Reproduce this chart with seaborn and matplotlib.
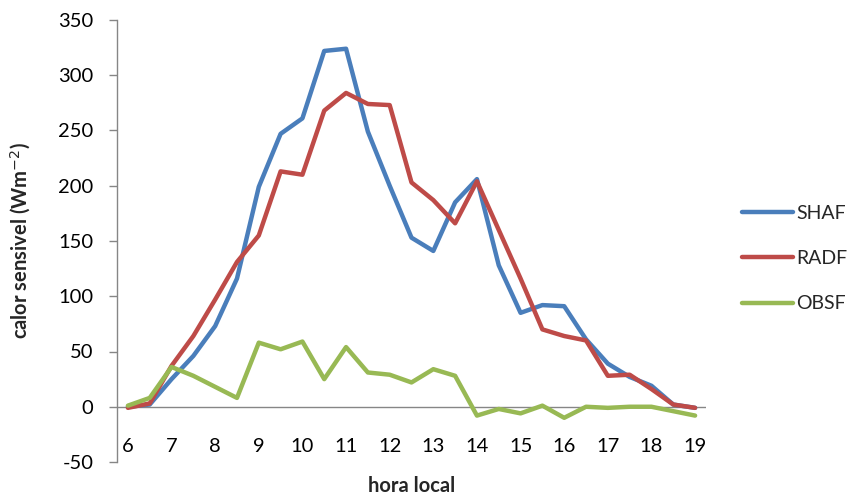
import numpy as np
import pandas as pd
import matplotlib
matplotlib.use("Agg")
import matplotlib.pyplot as plt
import seaborn as sns

# Half-hourly local time
hours = [6.0, 6.5, 7.0, 7.5, 8.0, 8.5, 9.0, 9.5, 10.0, 10.5, 11.0, 11.5, 12.0, 12.5,
         13.0, 13.5, 14.0, 14.5, 15.0, 15.5, 16.0, 16.5, 17.0, 17.5, 18.0, 18.5, 19.0]

# Sensible heat flux (W m-2)
shaf = [0, 2, 25, 46, 73, 116, 199, 247, 261, 322, 324, 249, 200, 153,
        141, 185, 206, 128, 85, 92, 91, 61, 39, 27, 19, 2, -1]
radf = [-1, 3, 37, 64, 97, 131, 155, 213, 210, 268, 284, 274, 273, 203,
        187, 166, 204, 160, 116, 70, 64, 60, 28, 29, 16, 2, -1]
obsf = [1, 8, 36, 28, 18, 8, 58, 52, 59, 25, 54, 31, 29, 22,
        34, 28, -8, -2, -6, 1, -10, 0, -1, 0, 0, -4, -8]

series_names = ["SHAF", "RADF", "OBSF"]
series_colors = ["#4A7EBB", "#BE4B48", "#98B954"]

df = pd.concat([
    pd.DataFrame({"hora": hours, "valor": vals, "serie": name})
    for name, vals in zip(series_names, [shaf, radf, obsf])
], ignore_index=True)

sns.set_theme(style="white")
plt.rcParams["font.family"] = ["Lato", "DejaVu Sans"]
plt.rcParams["axes.unicode_minus"] = False

FS = 14.5

fig = plt.figure(figsize=(8.52, 4.97), dpi=100)
ax = fig.add_axes([117 / 852, 1 - 462 / 497, (706 - 117) / 852, (462 - 20) / 497])

sns.lineplot(data=df, x="hora", y="valor", hue="serie", hue_order=series_names,
             palette=dict(zip(series_names, series_colors)), linewidth=3.2,
             ax=ax, legend=False)

ax.set_xlim(5.75, 19.25)
ax.set_ylim(-50, 350)
ax.set_yticks(np.arange(-50, 351, 50))
ax.set_xticks(np.arange(6, 20, 1))

for s in ["top", "right", "bottom"]:
    ax.spines[s].set_visible(False)
ax.spines["left"].set_color("#868686")
ax.spines["left"].set_linewidth(1.0)
ax.axhline(0, color="#868686", linewidth=1.0, zorder=0)

ax.tick_params(axis="y", left=True, length=6, width=1, color="#868686",
               direction="out", pad=11, labelsize=FS, labelcolor="black")
ax.tick_params(axis="x", bottom=False, length=0, pad=-17, labelsize=FS,
               labelcolor="black")

ax.set_xlabel("hora local", fontsize=FS, fontweight="bold")
ax.set_ylabel("calor sensivel (Wm$^{-2}$)", fontsize=FS, fontweight="bold")
ax.xaxis.set_label_coords(0.5, -0.032)
ax.yaxis.set_label_coords(-0.142, 0.5)

# Legend on the right side
handles = [plt.Line2D([0], [0], color=c, linewidth=3.2) for c in series_colors]
fig.legend(handles, series_names, loc="upper left",
           bbox_to_anchor=(742 / 852, 1 - 205 / 497), frameon=False,
           fontsize=FS - 0.5, handlelength=2.6, handletextpad=0.2,
           labelspacing=1.45, borderaxespad=0, borderpad=0)

fig.savefig("out.png", dpi=100)
